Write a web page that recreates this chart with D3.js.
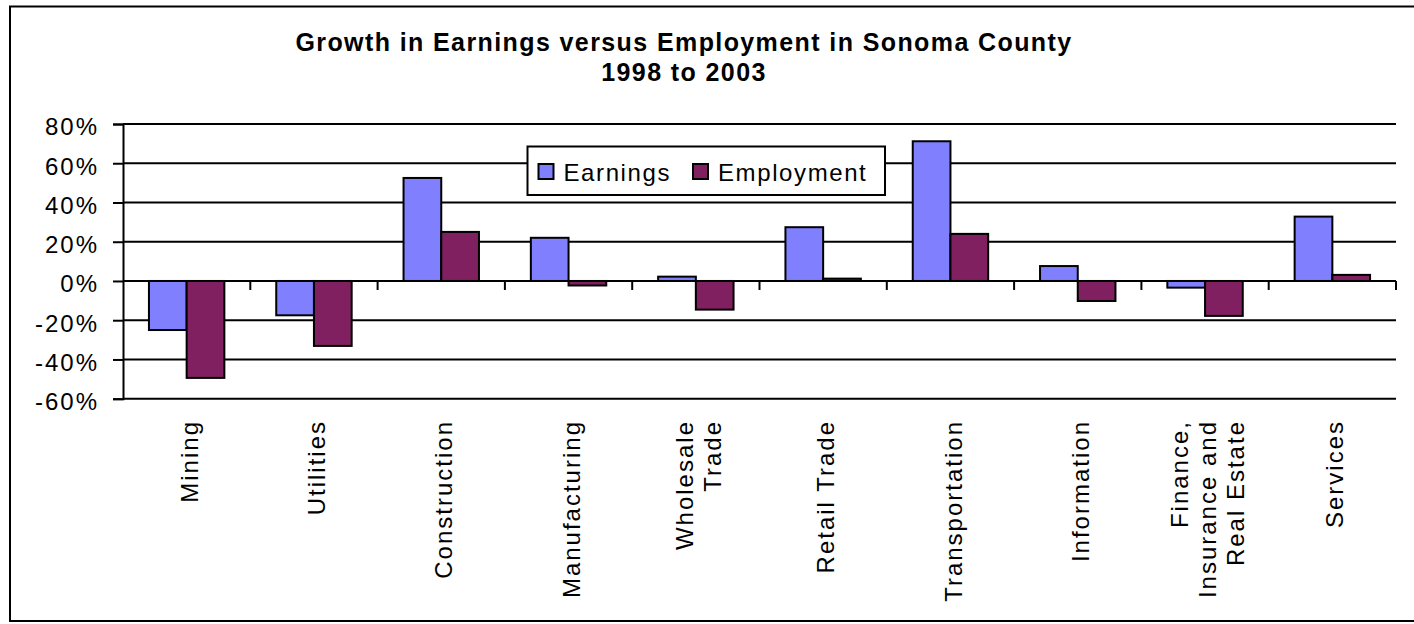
<!DOCTYPE html>
<html>
<head>
<meta charset="utf-8">
<script src="https://cdn.jsdelivr.net/npm/d3@7"></script>
<style>
  html, body { margin: 0; padding: 0; background: #fff; }
  svg { display: block; font-family: Arial, "Liberation Sans", sans-serif; }
</style>
</head>
<body>
<svg id="chart" width="1414" height="624"></svg>
<script>
const titleLines = ["Growth in Earnings versus Employment in Sonoma County", "1998 to 2003"];
const categories = ["Mining", "Utilities", "Construction", "Manufacturing", "Wholesale\nTrade",
  "Retail Trade", "Transportation", "Information", "Finance,\nInsurance and\nReal Estate", "Services"];
const seriesNames = ["Earnings", "Employment"];
const earnings   = [-25, -17.5, 52.5, 22, 2.2, 27.4, 71.2, 7.6, -3.4, 32.8];
const employment = [-49.4, -33.1, 25, -2.3, -14.6, 1.2, 24, -10.2, -17.8, 3.1];
const yTicks = [-60, -40, -20, 0, 20, 40, 60, 80];
const colors = ["#8080FF", "#802060"];

const svg = d3.select("#chart");
const plot = { left: 123, right: 1396, top: 124, bottom: 398.7 };

// Outer frame
svg.append("rect").attr("x", 10).attr("y", 6.5).attr("width", 1450).attr("height", 614.5)
  .attr("fill", "none").attr("stroke", "#000").attr("stroke-width", 2);

// Title
svg.append("text").attr("x", 684).attr("y", 50.5).attr("text-anchor", "middle")
  .attr("font-size", 25).attr("font-weight", "bold").attr("letter-spacing", 1.4)
  .text(titleLines[0]);
svg.append("text").attr("x", 684).attr("y", 80.5).attr("text-anchor", "middle")
  .attr("font-size", 25).attr("font-weight", "bold").attr("letter-spacing", 1.4)
  .text(titleLines[1]);

const y = d3.scaleLinear().domain([-60, 80]).range([plot.bottom, plot.top]);
const x = d3.scaleBand().domain(categories).range([plot.left, plot.right]).padding(0);
const xi = d3.scaleBand().domain(seriesNames).range([0, x.bandwidth()]).paddingInner(0).paddingOuter(0.688);

// Gridlines
svg.append("g").selectAll("line").data(yTicks).join("line")
  .attr("x1", plot.left).attr("x2", plot.right)
  .attr("y1", d => y(d)).attr("y2", d => y(d))
  .attr("stroke", "#000").attr("stroke-width", 2);

// Y axis
const yAxis = d3.axisLeft(y).tickValues(yTicks).tickSize(10).tickPadding(14)
  .tickFormat(d => d + "%");
const gy = svg.append("g").attr("transform", `translate(${plot.left},0)`).call(yAxis);
gy.select(".domain").attr("stroke", "#000").attr("stroke-width", 2);
gy.selectAll(".tick line").attr("stroke", "#000").attr("stroke-width", 2);
gy.selectAll(".tick text").attr("font-size", 24).attr("fill", "#000")
  .attr("font-family", "Arial, 'Liberation Sans', sans-serif")
  .attr("letter-spacing", 2).attr("dy", "0.45em");

// Bars
const data = categories.map((c, i) => ({ c, vals: [earnings[i], employment[i]] }));
const groups = svg.append("g").selectAll("g").data(data).join("g")
  .attr("transform", d => `translate(${x(d.c)},0)`);
groups.selectAll("rect").data(d => d.vals.map((v, k) => ({ k, v }))).join("rect")
  .attr("x", d => xi(seriesNames[d.k]))
  .attr("width", xi.bandwidth())
  .attr("y", d => y(Math.max(0, d.v)))
  .attr("height", d => Math.abs(y(d.v) - y(0)))
  .attr("fill", d => colors[d.k])
  .attr("stroke", "#000").attr("stroke-width", 2);

// X axis line at 0 with ticks at category boundaries
svg.append("line").attr("x1", plot.left).attr("x2", plot.right)
  .attr("y1", y(0)).attr("y2", y(0)).attr("stroke", "#000").attr("stroke-width", 2);
const boundaries = categories.map(c => x(c) + x.bandwidth());
svg.append("g").selectAll("line").data(boundaries).join("line")
  .attr("x1", d => d).attr("x2", d => d)
  .attr("y1", y(0)).attr("y2", y(0) + 9)
  .attr("stroke", "#000").attr("stroke-width", 2);

// X labels (rotated)
const lineH = 28;
svg.append("g").selectAll("text").data(categories).join("text")
  .attr("transform", d => `translate(${x(d) + x.bandwidth() / 2 + 2},420) rotate(-90)`)
  .attr("text-anchor", "end").attr("font-size", 24).attr("letter-spacing", 2)
  .each(function (d) {
    const lines = d.split("\n");
    const n = lines.length;
    d3.select(this).selectAll("tspan").data(lines).join("tspan")
      .attr("x", 0)
      .attr("y", (l, i) => (i - (n - 1) / 2) * lineH)
      .attr("dy", "0.38em")
      .text(l => l);
  });

// Legend
const lg = svg.append("g");
lg.append("rect").attr("x", 527.5).attr("y", 146.5).attr("width", 357.5).attr("height", 48.5)
  .attr("fill", "#fff").attr("stroke", "#000").attr("stroke-width", 2);
const legendX = [538.5, 693];
seriesNames.forEach((s, i) => {
  lg.append("rect").attr("x", legendX[i]).attr("y", 164).attr("width", 15).attr("height", 15)
    .attr("fill", colors[i]).attr("stroke", "#000").attr("stroke-width", 2);
  lg.append("text").attr("x", legendX[i] + 25).attr("y", 180.5)
    .attr("font-size", 24).attr("letter-spacing", 1.6).text(s);
});
</script>
</body>
</html>
